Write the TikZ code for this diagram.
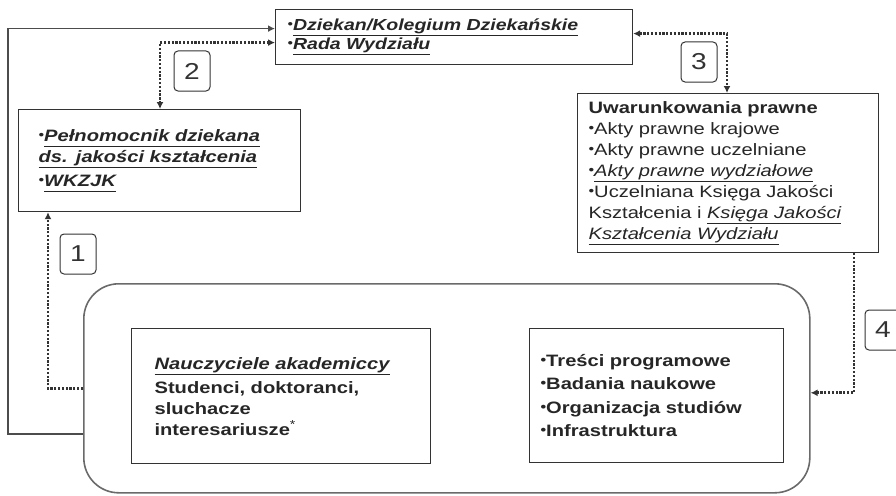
\documentclass[tikz,border=0pt]{standalone}
\usepackage{fontspec}
\setmainfont{Liberation Sans}[FakeStretch=1.22]
\usepackage{tikz}
\usetikzlibrary{arrows.meta}

\definecolor{linia}{HTML}{333333}
\definecolor{ramka}{HTML}{6A6A6A}
\newcommand{\pkt}{\raisebox{0.22ex}{\scalebox{0.8}{\textbullet}}}
\newcommand{\podkr}[1]{\underline{#1\vphantom{y}}}

\begin{document}
\begin{tikzpicture}[x=1pt, y=-1pt, >={Latex[length=7pt,width=7pt]},
  box/.style={draw=linia, line width=1.2pt, anchor=north west, align=left, inner ysep=0pt,
    text=black!85, font=\fontsize{16.5}{21}\selectfont},
  nr/.style={draw=linia, line width=1pt, rounded corners=4pt, minimum width=36pt, minimum height=40pt,
    inner sep=0pt, text=linia, font=\fontsize{23}{23}\selectfont},
  kropki/.style={draw=black!80, line width=2.8pt, dash pattern=on 2.2pt off 1.6pt},
  linka/.style={draw=black!70, line width=1.5pt}]
  \useasboundingbox (0,0) rectangle (896,495);

  \node[box, minimum width=357pt, minimum height=55pt, text width=333pt, inner xsep=12pt,
    font=\fontsize{16}{19}\selectfont] (dziekan) at (275,9)
    {\pkt\textbf{\textit{\podkr{Dziekan/Kolegium Dziekańskie}}}\\
     \pkt\textbf{\textit{\podkr{Rada Wydziału}}}};
  \node[box, minimum width=282pt, minimum height=102pt, text width=242pt, inner xsep=20pt] (pel) at (18,109)
    {\pkt\textbf{\textit{\podkr{Pełnomocnik dziekana}}}\\
     \textbf{\textit{\podkr{ds. jakości kształcenia}}}\\[3pt]
     \pkt\textbf{\textit{\podkr{WKZJK}}}};
  \node[box, minimum width=301pt, minimum height=159pt, text width=279pt, inner xsep=11pt] (uwar) at (577,93)
    {\textbf{Uwarunkowania prawne}\\
     \pkt Akty prawne krajowe\\
     \pkt Akty prawne uczelniane\\
     \pkt\textit{\podkr{Akty prawne wydziałowe}}\\
     \pkt Uczelniana Księga Jakości\\
     Kształcenia i \textit{\podkr{Księga Jakości}}\\
     \textit{\podkr{Kształcenia Wydziału}}};

  \node[draw=ramka, line width=1.6pt, rounded corners=35pt, anchor=north west,
    minimum width=726pt, minimum height=209pt] (zespol) at (83,283) {};
  \node[box, minimum width=299pt, minimum height=135pt, text width=253pt, inner xsep=23pt] (naucz) at (131,328)
    {\textbf{\textit{\podkr{Nauczyciele akademiccy}}}\\[3pt]
     \textbf{Studenci, doktoranci,}\\
     \textbf{sluchacze}\\
     \textbf{interesariusze}\textsuperscript{*}};
  \node[box, minimum width=254pt, minimum height=134pt, text width=232pt, inner xsep=11pt,
    font=\fontsize{16.5}{23.5}\selectfont] (tresci) at (529,328)
    {\textbf{\pkt Treści programowe}\\
     \textbf{\pkt Badania naukowe}\\
     \textbf{\pkt Organizacja studiów}\\
     \textbf{\pkt Infrastruktura}};

  \node[nr] (nr1) at (78,254) {1};
  \node[nr] (nr2) at (192,71) {2};
  \node[nr] (nr3) at (699,62) {3};
  \node[nr] (nr4) at (883,330) {4};

  \draw[linka, ->] ([yshift=-45.5pt]zespol.west) -- ++(-75,0) |- ([yshift=8.5pt]dziekan.west);
  \draw[kropki, <->] ([yshift=-5.5pt]dziekan.west) -| ([xshift=142pt]pel.north west);
  \draw[kropki, <->] ([yshift=3.5pt]dziekan.east) -| ([xshift=150pt]uwar.north west);
  \draw[kropki, ->] (zespol.west) -| ([xshift=30pt]pel.south west);
  \draw[kropki, ->] ([xshift=277pt]uwar.south west) |- ([yshift=-4.5pt]zespol.east);
\end{tikzpicture}
\end{document}
